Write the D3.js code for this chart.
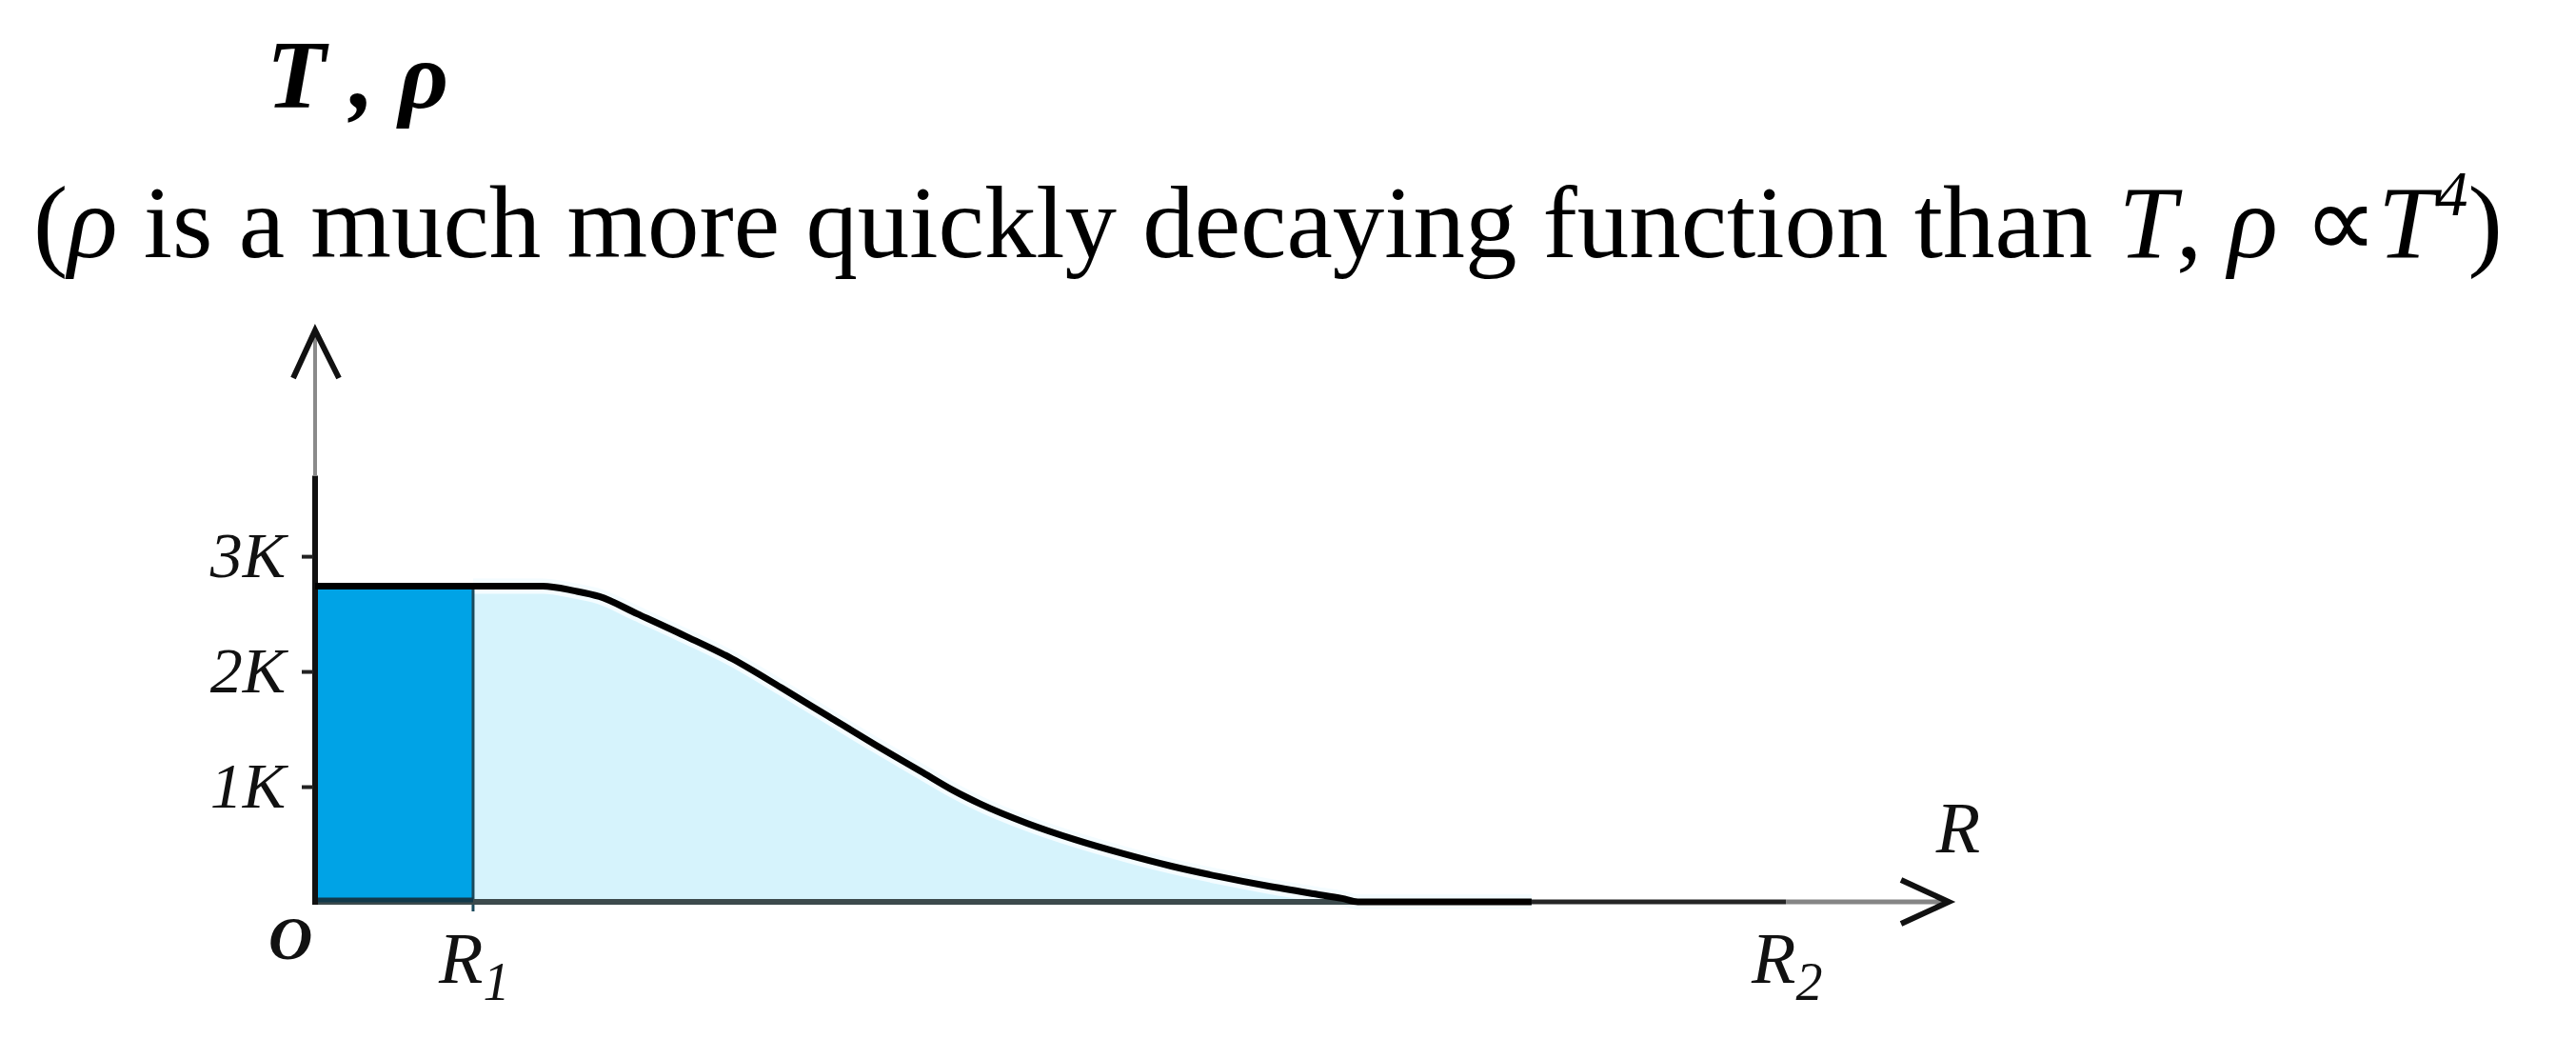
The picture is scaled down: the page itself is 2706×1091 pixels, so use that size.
<!DOCTYPE html>
<html><head><meta charset="utf-8">
<script src="https://cdn.jsdelivr.net/npm/d3@7"></script>
<style>html,body{margin:0;padding:0;background:#fff;} svg{display:block;}</style>
</head><body>
<svg id="chart" width="2706" height="1091"></svg>
<script>
// ---- data ----
const radius      = [0, 1.0, 1.44, 1.64, 1.80, 2.04, 2.34, 2.64, 2.95, 3.25, 3.55, 3.85, 4.03, 4.21, 4.51, 4.81, 5.11, 5.42, 5.72, 6.02, 6.32, 6.50, 6.60, 7.70];
const temperature = [2.74, 2.74, 2.74, 2.70, 2.65, 2.50, 2.31, 2.11, 1.86, 1.61, 1.36, 1.12, 0.975, 0.85, 0.68, 0.54, 0.42, 0.31, 0.22, 0.14, 0.07, 0.03, 0, 0];
const tickValues  = [1, 2, 3];
const tickLabels  = ["1K", "2K", "3K"];
const radiusMarks = [0, 1, 9.31];
const radiusNames = ["O", "R", "R"];
const radiusSubs  = ["", "1", "2"];
const coreRadius  = 1;        // R1
const axisMaxR    = 10.34;    // end of R axis (arrow tip)
const axisMaxT    = 4.96;     // end of T axis (arrow tip)
const titleText   = "T , ρ";

const svg = d3.select("#chart");
const serif = "'Liberation Serif','Times New Roman',serif";

const x = d3.scaleLinear().domain([0, axisMaxR]).range([331, 2047]);
const y = d3.scaleLinear().domain([0, axisMaxT]).range([947, 347]);

const pts = radius.map((r, i) => ({r, t: temperature[i]}));
const outer = pts.filter(d => d.r >= coreRadius);
const plateau = temperature[0];

// light fill (outer region)
const area = d3.area().x(d => x(d.r)).y0(y(0)).y1(d => y(d.t)).curve(d3.curveMonotoneX);
svg.append("path").attr("d", area(outer)).attr("fill", "#d6f3fc");

// dark core rect
svg.append("rect")
  .attr("x", x(0)).attr("y", y(plateau))
  .attr("width", x(coreRadius) - x(0)).attr("height", y(0) - y(plateau))
  .attr("fill", "#00a3e6");

// white halo under the curve over the light region
const line = d3.line().x(d => x(d.r)).y(d => y(d.t)).curve(d3.curveMonotoneX);
svg.append("path").attr("d", line(outer)).attr("fill", "none")
  .attr("stroke", "#f4fcff").attr("stroke-width", 16);

// R1 boundary
svg.append("line")
  .attr("x1", x(coreRadius)).attr("x2", x(coreRadius))
  .attr("y1", y(plateau)).attr("y2", y(0) + 10)
  .attr("stroke", "#1b4a5c").attr("stroke-width", 3);

// R axis (segments of different darkness)
svg.append("line").attr("x1", x(0)).attr("x2", x(radius[radius.length - 1]))
  .attr("y1", y(0)).attr("y2", y(0)).attr("stroke", "#3c4a4c").attr("stroke-width", 6);
svg.append("line").attr("x1", x(radius[radius.length - 1])).attr("x2", x(radiusMarks[2]))
  .attr("y1", y(0)).attr("y2", y(0)).attr("stroke", "#262626").attr("stroke-width", 5);
svg.append("line").attr("x1", x(radiusMarks[2])).attr("x2", x(axisMaxR) - 6)
  .attr("y1", y(0)).attr("y2", y(0)).attr("stroke", "#858585").attr("stroke-width", 5);
// dark bottom border of the core
svg.append("line").attr("x1", x(0)).attr("x2", x(coreRadius))
  .attr("y1", y(0) - 2).attr("y2", y(0) - 2).attr("stroke", "#12394a").attr("stroke-width", 5);

// T axis
svg.append("line").attr("x1", x(0)).attr("x2", x(0))
  .attr("y1", y(0) + 3).attr("y2", y(3.7)).attr("stroke", "#111").attr("stroke-width", 6);
svg.append("line").attr("x1", x(0)).attr("x2", x(0))
  .attr("y1", y(3.7)).attr("y2", y(axisMaxT) + 6).attr("stroke", "#8a8a8a").attr("stroke-width", 4);

// curve
svg.append("path").attr("d", line(pts)).attr("fill", "none")
  .attr("stroke", "#000").attr("stroke-width", 7).attr("stroke-linejoin", "round");

// arrow heads
const tipY = [x(0), y(axisMaxT)];
svg.append("path")
  .attr("d", `M${tipY[0] - 23},${tipY[1] + 50}L${tipY[0]},${tipY[1]}L${tipY[0] + 25},${tipY[1] + 50}`)
  .attr("fill", "none").attr("stroke", "#111").attr("stroke-width", 6);
const tipX = [x(axisMaxR), y(0)];
svg.append("path")
  .attr("d", `M${tipX[0] - 50},${tipX[1] - 23}L${tipX[0]},${tipX[1]}L${tipX[0] - 50},${tipX[1] + 23}`)
  .attr("fill", "none").attr("stroke", "#111").attr("stroke-width", 6);

// T ticks
const yAxis = d3.axisLeft(y).tickValues(tickValues).tickSize(12).tickPadding(17)
  .tickFormat((d, i) => tickLabels[i]);
const gy = svg.append("g").attr("transform", `translate(${x(0) - 2},0)`).call(yAxis);
gy.select(".domain").remove();
gy.selectAll(".tick line").attr("stroke", "#222").attr("stroke-width", 4);
gy.selectAll(".tick text").attr("fill", "#111").attr("font-family", serif)
  .attr("font-style", "italic").attr("font-size", 68).attr("dy", "0.31em");

// R labels
const rl = svg.append("g").attr("font-family", serif).attr("font-style", "italic").attr("fill", "#111");
radiusMarks.forEach((v, i) => {
  if (i === 0) {
    rl.append("text").attr("x", x(v) - 26).attr("y", 1007).attr("text-anchor", "middle")
      .attr("font-size", 64).attr("font-weight", "bold").text(radiusNames[i]);
  } else {
    const t = rl.append("text").attr("x", x(v) - 36).attr("y", 1032).attr("font-size", 76);
    t.append("tspan").text(radiusNames[i]);
    t.append("tspan").attr("font-size", 56).attr("dy", 18).text(radiusSubs[i]);
  }
});
rl.append("text").attr("x", x(axisMaxR) + 10).attr("y", 895).attr("text-anchor", "middle")
  .attr("font-size", 76).text("R");

// title
svg.append("text").attr("x", 280).attr("y", 113).attr("font-family", serif)
  .attr("font-style", "italic").attr("font-weight", "bold").attr("font-size", 102)
  .attr("fill", "#000").text(titleText);

// subtitle
const sub = svg.append("text").attr("x", 35).attr("y", 270).attr("font-family", serif)
  .attr("font-size", 100).attr("fill", "#000");
sub.append("tspan").text("(");
sub.append("tspan").attr("font-style", "italic").text("ρ");
sub.append("tspan").text(" is a much more quickly decaying function than ");
sub.append("tspan").attr("font-style", "italic").text("T");
sub.append("tspan").text(",  ");
sub.append("tspan").attr("font-style", "italic").text("ρ");
sub.append("tspan").text(" ∝");
sub.append("tspan").attr("font-style", "italic").text("T");
const sup = sub.append("tspan").attr("font-style", "italic").text("4");
const close = sub.append("tspan").text(")");
let w = sub.node().getComputedTextLength();
const fs = 100 * 2614 / w;
sub.attr("font-size", fs);
sup.attr("font-size", fs * 0.62).attr("dy", -fs * 0.40);
close.attr("dy", fs * 0.40);
</script>
</body></html>
